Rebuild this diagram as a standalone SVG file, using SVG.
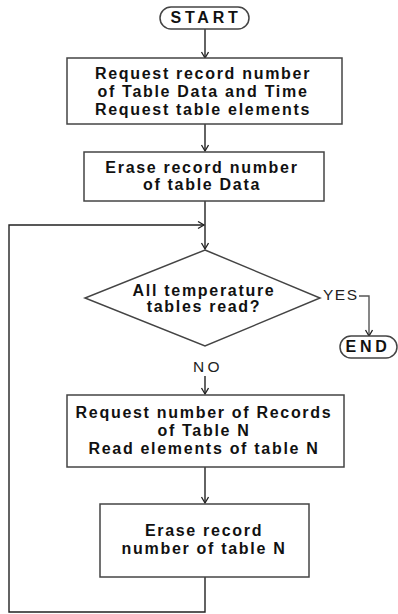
<svg xmlns="http://www.w3.org/2000/svg" width="398" height="614" viewBox="0 0 398 614">
<style>
.box{fill:#fff;stroke:#444;stroke-width:1.5}
.t{font-family:"Liberation Sans",Arial,sans-serif;font-weight:bold;font-size:16px;letter-spacing:1.7px;fill:#111;text-anchor:middle}
.term{letter-spacing:3.8px}
.lbl{font-family:"Liberation Sans",Arial,sans-serif;font-size:15.5px;fill:#222}
.c{fill:none;stroke:#222;stroke-width:1.4}
</style>
<defs>
<marker id="ah" markerUnits="userSpaceOnUse" markerWidth="10" markerHeight="10" refX="7" refY="4" orient="auto">
<path d="M1,0.5 L7,4 L1,7.5" fill="none" stroke="#222" stroke-width="1.3"/>
</marker>
</defs>
<g id="connectors">
<line class="c" x1="205" y1="29" x2="205" y2="58" marker-end="url(#ah)"/>
<line class="c" x1="205" y1="124" x2="205" y2="151" marker-end="url(#ah)"/>
<line class="c" x1="205" y1="201" x2="205" y2="249" marker-end="url(#ah)"/>
<polyline class="c" points="205,577 205,612 9,612 9,225 204,225" marker-end="url(#ah)"/>
<line class="c" x1="205" y1="376" x2="205" y2="394" marker-end="url(#ah)"/>
<line class="c" x1="205" y1="467" x2="205" y2="503" marker-end="url(#ah)"/>
<polyline class="c" points="359,296 369,296 369,336" marker-end="url(#ah)" style="stroke:#555"/>
<text class="lbl" x="323" y="300" style="letter-spacing:1.5px">YES</text>
<text class="lbl" x="208" y="372" text-anchor="middle" style="letter-spacing:3.5px">NO</text>
</g>
<g id="start">
<rect x="160" y="7" width="89" height="22" rx="11" class="box"/>
<text class="t term" x="206" y="23">START</text>
</g>
<g id="box1">
<rect x="67" y="58" width="275" height="66" class="box"/>
<text class="t" x="203" y="79">Request record number</text>
<text class="t" x="203" y="97">of Table Data and Time</text>
<text class="t" x="203" y="115">Request table elements</text>
</g>
<g id="box2">
<rect x="84" y="152" width="240" height="49" class="box"/>
<text class="t" x="202" y="173">Erase record number</text>
<text class="t" x="202" y="190">of table Data</text>
</g>
<g id="decision">
<polygon points="205,250 320,298 205,346 85,298" class="box"/>
<text class="t" x="204" y="296">All temperature</text>
<text class="t" x="204" y="312">tables read?</text>
</g>
<g id="end">
<rect x="340" y="336" width="57" height="22" rx="11" class="box"/>
<text class="t term" x="368" y="352">END</text>
</g>
<g id="box3">
<rect x="67" y="395" width="277" height="72" class="box"/>
<text class="t" x="204" y="418">Request number of Records</text>
<text class="t" x="204" y="436">of Table N</text>
<text class="t" x="204" y="454">Read elements of table N</text>
</g>
<g id="box4">
<rect x="100" y="504" width="209" height="73" class="box"/>
<text class="t" x="204" y="536">Erase record</text>
<text class="t" x="204" y="554">number of table N</text>
</g>
</svg>
